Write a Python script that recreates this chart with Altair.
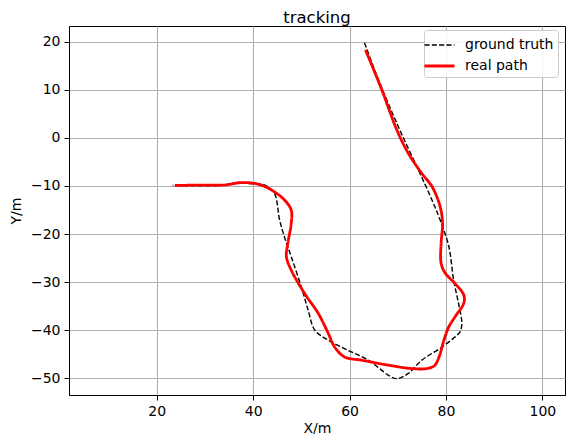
import altair as alt
import pandas as pd

# ground truth path (black dashed)
gt_x = [63.1, 66.0, 70.1, 74.3, 77.1, 78.8, 80.6, 81.6, 82.6, 83.3, 82.9, 81.9, 79.2,
        75.0, 72.2, 69.8, 68.1, 63.9, 59.7, 55.6, 52.8, 51.4, 50.0, 47.9, 46.5, 45.5,
        44.4, 42.4, 40.6, 36.8, 32.6, 23.3]
gt_y = [19.8, 12.1, 2.4, -6.7, -12.9, -17.1, -22.6, -29.6, -34.4, -38.6, -40.4, -41.4,
        -43.5, -46.25, -49.0, -50.1, -49.4, -46.25, -44.2, -42.1, -40.0, -35.8, -31.0,
        -24.7, -20.6, -17.1, -11.5, -9.8, -9.6, -9.4, -9.9, -9.9]

# real path (red)
rp_x = [63.3, 63.9, 66.7, 69.8, 72.2, 75.0, 77.1, 78.8, 79.3, 79.0, 79.0,
        79.9, 81.9, 83.7, 83.7, 81.9, 80.6, 79.6, 78.6, 77.6, 76.0, 72.9, 68.1, 62.5,
        59.0, 56.9, 55.6, 53.5, 50.7, 47.9, 46.9, 47.2, 47.9, 47.9, 46.5, 43.75, 41.0,
        37.5, 34.0, 29.2, 23.75]
rp_y = [18.3, 16.9, 10.0, 1.7, -3.2, -7.4, -10.1, -14.3, -17.8, -21.9,
        -26.1, -28.2, -30.3, -32.7, -34.4, -37.2, -39.3, -42.0, -45.5, -47.4, -48.0,
        -48.0, -47.3, -46.25, -45.6, -43.5, -40.7, -36.5, -32.4, -27.5, -24.7, -21.9,
        -17.8, -15.0, -12.9, -10.8, -9.6, -9.3, -9.8, -9.8, -9.9]

series_names = ["ground truth", "real path"]
x_ticks = [20, 40, 60, 80, 100]
y_ticks = [-50, -40, -30, -20, -10, 0, 10, 20]

rows = []
for i, (x, y) in enumerate(zip(gt_x, gt_y)):
    rows.append({"series": series_names[0], "i": i, "x": x, "y": y})
for i, (x, y) in enumerate(zip(rp_x, rp_y)):
    rows.append({"series": series_names[1], "i": i, "x": x, "y": y})
df = pd.DataFrame(rows)

FONT = "DejaVu Sans"

chart = alt.Chart(df, title=alt.Title("tracking", fontSize=16.5, font=FONT, fontWeight="normal",
                                       color="black", offset=0)).mark_line(
    interpolate="catmull-rom"
).encode(
    x=alt.X("x:Q", scale=alt.Scale(domain=[1.8, 104.7], nice=False, zero=False),
            axis=alt.Axis(values=x_ticks, title="X/m", titleBaseline="alphabetic",
                          titleY=37, titleX=248)),
    y=alt.Y("y:Q", scale=alt.Scale(domain=[-53.5, 23.3], nice=False, zero=False),
            axis=alt.Axis(values=y_ticks, title="Y/m", titleAngle=270, titleX=-53,
                          titleY=184.5, titleAlign="center", titleBaseline="middle")),
    color=alt.Color("series:N", scale=alt.Scale(domain=series_names, range=["black", "#ff0000"]),
                    title=None),
    strokeDash=alt.StrokeDash("series:N", scale=alt.Scale(domain=series_names,
                                                          range=[[5.1, 2.2], [1, 0]]), title=None),
    strokeWidth=alt.StrokeWidth("series:N", scale=alt.Scale(domain=series_names, range=[1.4, 2.8]),
                                title=None),
    order="i:Q",
).properties(
    width=496, height=369,
    autosize=alt.AutoSizeParams(type="none"),
    padding={"left": 61, "top": 18, "right": 8, "bottom": 39},
).configure_view(
    stroke="black", strokeWidth=1
).configure_axis(
    grid=True, gridColor="#b0b0b0", gridWidth=1.1,
    domainColor="black", domainWidth=1,
    tickColor="black", tickSize=5, tickWidth=1,
    labelFont=FONT, labelFontSize=14, labelColor="black", labelPadding=4,
    titleFont=FONT, titleFontSize=14, titleColor="black", titleFontWeight="normal",
).configure_legend(
    orient="none", legendX=355, legendY=4,
    fillColor="rgba(255,255,255,0.85)", strokeColor="#cccccc", cornerRadius=3,
    padding=4, symbolType="M-1.5,0H1.5", symbolSize=400, labelOffset=14,
    labelFont=FONT, labelFontSize=14, labelColor="black", rowPadding=2.5,
)

chart.save("out.html", embed_options={"renderer": "svg", "actions": False})
